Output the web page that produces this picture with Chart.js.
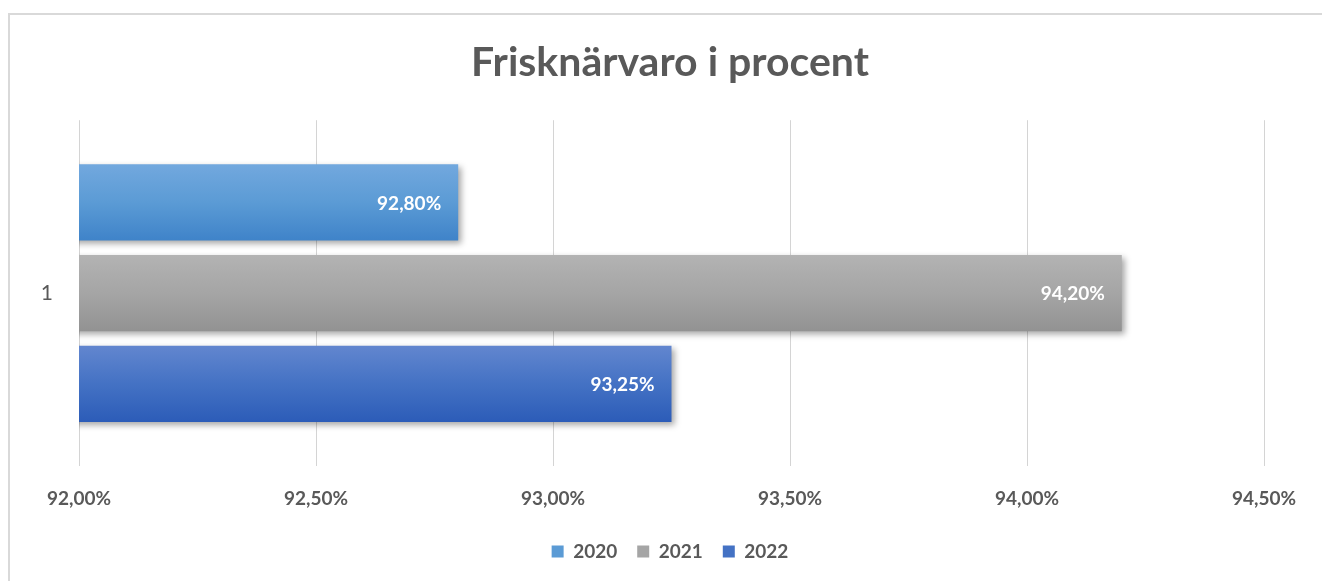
<!DOCTYPE html>
<html>
<head>
<meta charset="utf-8">
<script src="https://cdn.jsdelivr.net/npm/chart.js@4.4.0/dist/chart.umd.min.js"></script>
<style>
  html, body { margin: 0; padding: 0; background: #fff; }
  #frame { position: absolute; left: 8px; top: 13px; width: 1330px; height: 600px; border: 2px solid #d9d9d9; box-sizing: border-box; }
  #wrap { position: absolute; left: 0; top: 0; width: 1322px; height: 581px; }
</style>
</head>
<body>
<div id="frame"></div>
<div id="wrap"><canvas id="myChart"></canvas></div>
<script>
const categories = ['1'];
const years = ['2020', '2021', '2022'];
const values2020 = [92.80];
const values2021 = [94.20];
const values2022 = [93.25];
const axisMin = 92.0;
const axisMax = 94.5;
const axisStep = 0.5;

// top / middle / bottom of each bar gradient
const shades = [
    ['#72a8de', '#5b9bd5', '#3f83c9'],
    ['#b3b3b3', '#a5a5a5', '#929292'],
    ['#6286cf', '#4472c4', '#2c5cb8']
];

const fmt = v => v.toFixed(2).replace('.', ',') + '%';

const barLook = {
    id: 'barLook',
    beforeDatasetsDraw(chart) {
        const ctx = chart.ctx;
        chart.data.datasets.forEach((ds, i) => {
            chart.getDatasetMeta(i).data.forEach(el => {
                const top = el.y - el.height / 2;
                const g = ctx.createLinearGradient(0, top, 0, top + el.height);
                g.addColorStop(0, shades[i][0]);
                g.addColorStop(0.5, shades[i][1]);
                g.addColorStop(1, shades[i][2]);
                el.options = Object.assign({}, el.options, { backgroundColor: g });
            });
        });
        ctx.save();
        ctx.shadowColor = 'rgba(0,0,0,0.35)';
        ctx.shadowBlur = 6;
        ctx.shadowOffsetX = 3;
        ctx.shadowOffsetY = 3;
    },
    afterDatasetsDraw(chart) {
        const ctx = chart.ctx;
        ctx.restore();
        ctx.save();
        ctx.fillStyle = '#ffffff';
        ctx.font = 'bold 19px Lato';
        ctx.textAlign = 'right';
        ctx.textBaseline = 'middle';
        chart.data.datasets.forEach((ds, i) => {
            chart.getDatasetMeta(i).data.forEach((el, j) => {
                ctx.fillText(fmt(ds.data[j]), el.x - 17, el.y + 1);
            });
        });
        ctx.restore();
    }
};

const ctx = document.getElementById('myChart').getContext('2d');
var myChart = new Chart(ctx, {
    type: 'bar',
    data: {
        labels: categories,
        datasets: [{
            label: years[0],
            data: values2020,
            backgroundColor: shades[0][1]
        }, {
            label: years[1],
            data: values2021,
            backgroundColor: shades[1][1]
        }, {
            label: years[2],
            data: values2022,
            backgroundColor: shades[2][1]
        }]
    },
    options: {
        indexAxis: 'y',
        responsive: true,
        maintainAspectRatio: false,
        animation: false,
        layout: { padding: { top: 38, right: 0, left: 18, bottom: 10 } },
        datasets: {
            bar: { categoryPercentage: 0.787, barPercentage: 0.84 }
        },
        scales: {
            x: {
                min: axisMin,
                max: axisMax,
                ticks: {
                    stepSize: axisStep,
                    padding: 21,
                    color: '#595959',
                    font: { family: 'Lato', weight: 'bold', size: 19 },
                    callback: v => fmt(v)
                },
                grid: { color: '#d4d4d4', lineWidth: 1, drawTicks: false },
                border: { display: false },
                afterFit(scale) { scale.height = 56; }
            },
            y: {
                ticks: {
                    padding: 18,
                    color: '#595959',
                    font: { family: 'Lato', size: 21 }
                },
                grid: { display: false },
                border: { display: false },
                afterFit(scale) { scale.width = 61; }
            },
            yRight: {
                position: 'right',
                display: true,
                ticks: { display: false },
                grid: { display: false },
                border: { display: false },
                afterFit(scale) { scale.width = 58; }
            }
        },
        plugins: {
            title: {
                display: true,
                text: 'Frisknärvaro i procent',
                color: '#595959',
                font: { family: 'Lato', weight: 'bold', size: 41, lineHeight: 1.2 },
                padding: { top: 0, bottom: 33 }
            },
            legend: {
                position: 'bottom',
                labels: {
                    boxWidth: 12,
                    boxHeight: 12,
                    padding: 20,
                    color: '#595959',
                    font: { family: 'Lato', weight: 'bold', size: 19 }
                }
            },
            tooltip: { enabled: false }
        }
    },
    plugins: [barLook]
});
</script>
</body>
</html>
